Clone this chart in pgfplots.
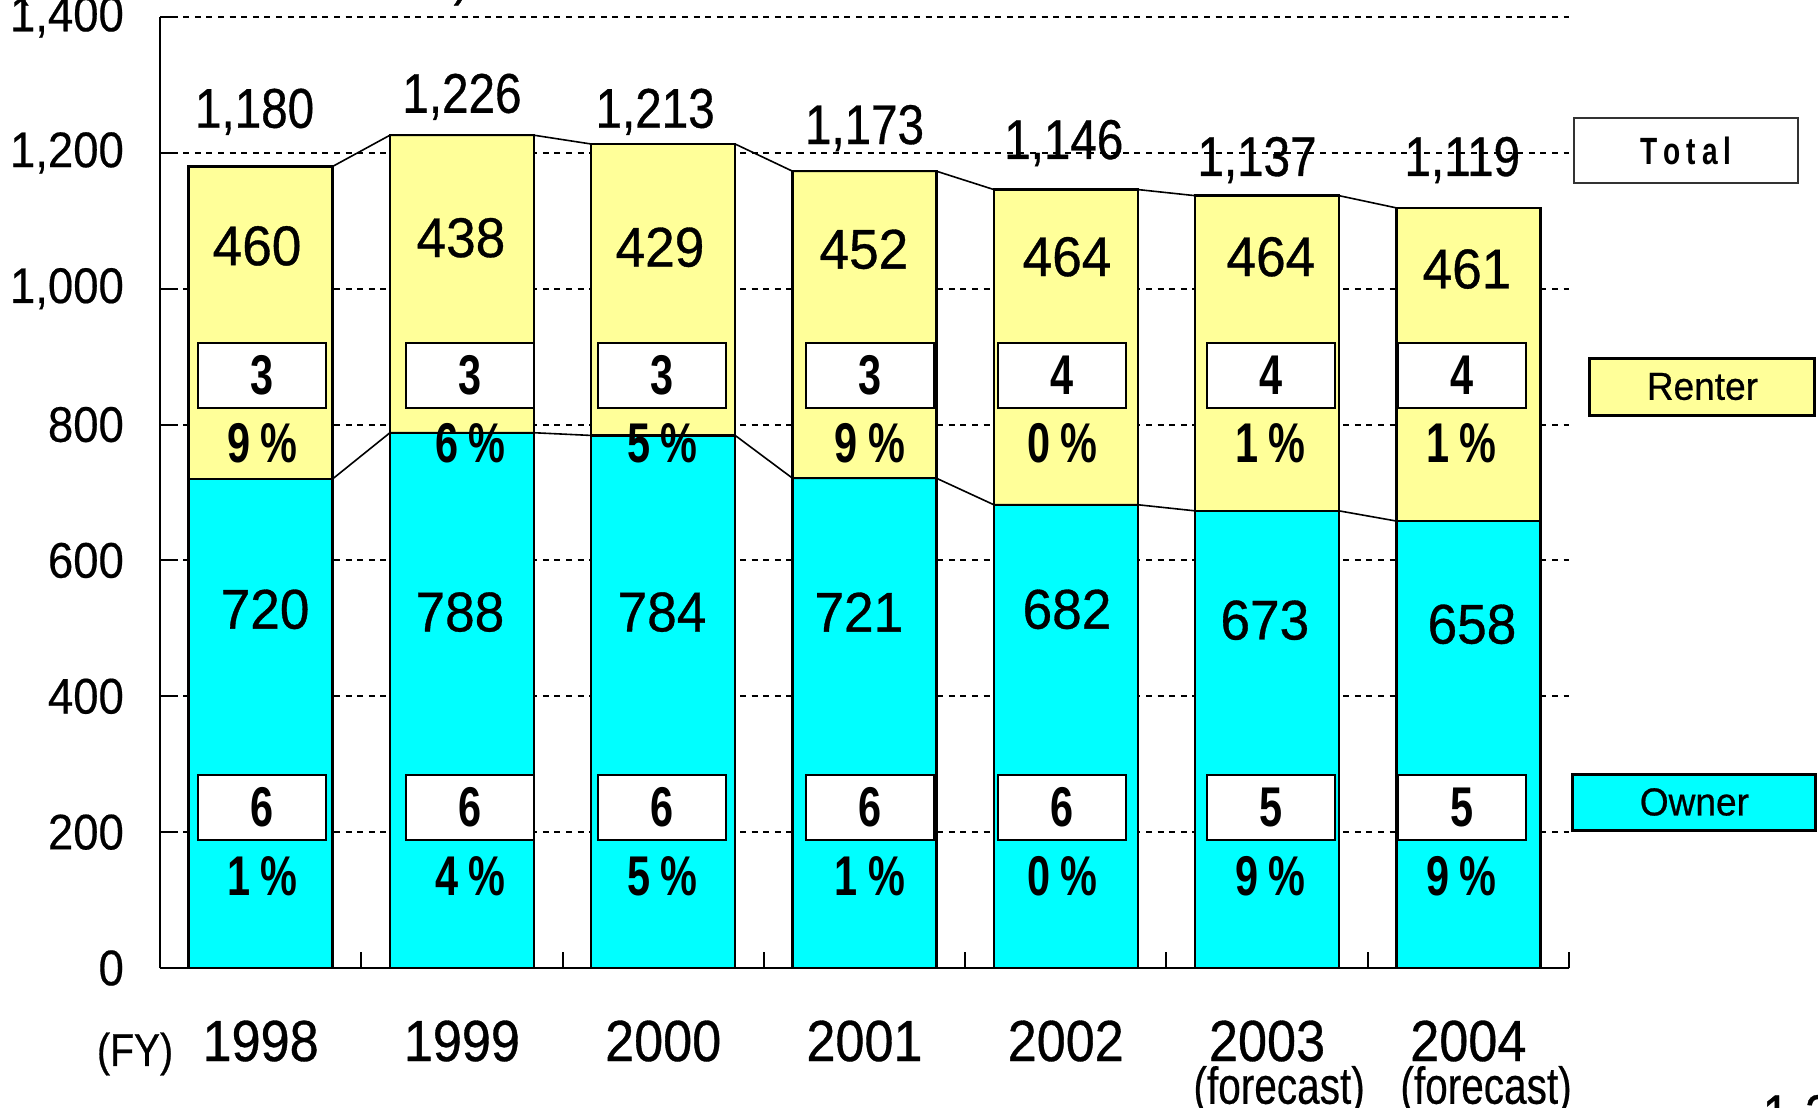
\documentclass[border=0pt]{standalone}
\usepackage{pgfplots}
\pgfplotsset{compat=1.18}
\usepackage{pgfplotstable}
\usepackage{fontspec}
\setmainfont{Liberation Sans}
\newfontfamily\numf{Liberation Sans}[FakeStretch=0.85, FakeBold=0.6]
\newfontfamily\valf{Liberation Sans}[FakeStretch=0.95, FakeBold=0.6]
\newfontfamily\tickf{Liberation Sans}[FakeStretch=0.91, FakeBold=0.4]
\newfontfamily\yrf{Liberation Sans}[FakeStretch=0.9, FakeBold=0.6]
\newfontfamily\condf{Liberation Sans}[FakeStretch=0.78, FakeBold=0.4]
\newfontfamily\bcf{Liberation Sans}[FakeStretch=0.74]
\definecolor{renteryellow}{RGB}{255,255,153}
\definecolor{ownercyan}{RGB}{0,255,255}

\pgfplotstableread{
x owner renter total
0 720 460 1180
1 788 438 1226
2 784 429 1213
3 721 452 1173
4 682 464 1146
5 673 464 1137
6 658 461 1119
}\housing

\tikzset{
  pbox/.style={draw=black, line width=0.4pt, fill=white, minimum width=32pt, minimum height=16.25pt, inner sep=0pt, font=\bcf\bfseries\fontsize{14pt}{16pt}\selectfont},
  pct/.style={inner sep=0pt, font=\bcf\bfseries\fontsize{14pt}{16pt}\selectfont},
  tot/.style={inner sep=0pt, anchor=base, font=\numf\fontsize{14pt}{16pt}\selectfont},
  val/.style={inner sep=0pt, font=\valf\fontsize{14pt}{16pt}\selectfont},
  yr/.style={inner sep=0pt, font=\yrf\fontsize{14.5pt}{16pt}\selectfont},
}

\begin{document}
\begin{tikzpicture}
\useasboundingbox (0,0) rectangle (454.5pt,276.75pt);
\clip (0,0) rectangle (454.5pt,276.75pt);
\begin{axis}[
  at={(40pt,34.75pt)}, anchor=south west,
  scale only axis, width=352.25pt, height=237.75pt,
  xmin=-0.5, xmax=6.5, ymin=0, ymax=1400,
  axis x line*=bottom, axis y line*=left,
  axis line style={black, line width=0.5pt},
  xtick={-0.5,0.5,1.5,2.5,3.5,4.5,5.5,6.5}, xticklabels={},
  ytick={0,200,...,1400},
  tick align=inside, major tick length=4pt,
  tick style={black, line width=0.5pt},
  ymajorgrids, grid style={black, line width=0.5pt, dash pattern=on 1.5pt off 1.4pt},
  /pgf/number format/assume math mode=true,
  /pgf/number format/1000 sep={,},
  yticklabel style={font=\tickf\fontsize{12.5pt}{14pt}\selectfont, xshift=-5.5pt},
  clip=false,
]
% total (renter on top) bars, then owner bars over them
\addplot[ybar, bar width=0.715, bar shift=0pt, fill=renteryellow, draw=black, line width=0.6pt]
  table[x=x, y=total]{\housing};
\addplot[ybar, bar width=0.715, bar shift=0pt, fill=ownercyan, draw=black, line width=0.6pt]
  table[x=x, y=owner]{\housing};
% series lines
\addplot[black, line width=0.4pt, sharp plot, mark=none] coordinates {
 (0.3575,720) (0.6425,788) (1.3575,788) (1.6425,784) (2.3575,784) (2.6425,721)
 (3.3575,721) (3.6425,682) (4.3575,682) (4.6425,673) (5.3575,673) (5.6425,658)};
\addplot[black, line width=0.4pt, sharp plot, mark=none] coordinates {
 (0.3575,1180) (0.6425,1226) (1.3575,1226) (1.6425,1213) (2.3575,1213) (2.6425,1173)
 (3.3575,1173) (3.6425,1146) (4.3575,1146) (4.6425,1137) (5.3575,1137) (5.6425,1119)};

% totals
\node[tot] at (axis cs:-0.03,1237) {1,180};
\node[tot] at (axis cs:1.0,1259) {1,226};
\node[tot] at (axis cs:1.96,1237) {1,213};
\node[tot] at (axis cs:3.0,1213) {1,173};
\node[tot] at (axis cs:3.99,1191) {1,146};
\node[tot] at (axis cs:4.95,1166) {1,137};
\node[tot] at (axis cs:5.97,1166) {1,119};

% renter values
\node[val] at (axis cs:-0.018,1063) {460};
\node[val] at (axis cs:0.995,1075) {438};
\node[val] at (axis cs:1.984,1061) {429};
\node[val] at (axis cs:2.997,1058) {452};
\node[val] at (axis cs:4.006,1047) {464};
\node[val] at (axis cs:5.019,1047) {464};
\node[val] at (axis cs:5.993,1029) {461};

% owner values
\node[val] at (axis cs:0.022,528) {720};
\node[val] at (axis cs:0.99,524) {788};
\node[val] at (axis cs:1.994,524) {784};
\node[val] at (axis cs:2.972,524) {721};
\node[val] at (axis cs:4.006,528) {682};
\node[val] at (axis cs:4.989,512) {673};
\node[val] at (axis cs:6.018,506) {658};

% renter share boxes
\node[pbox] at (axis cs:0.007,872) {3};
\node[pbox] at (axis cs:1.040,872) {3};
\node[pbox] at (axis cs:1.994,872) {3};
\node[pbox] at (axis cs:3.027,872) {3};
\node[pbox] at (axis cs:3.981,872) {4};
\node[pbox] at (axis cs:5.019,872) {4};
\node[pbox] at (axis cs:5.968,872) {4};
\node[pct] at (axis cs:0.007,773) {9\kern2.5pt\%};
\node[pct] at (axis cs:1.040,773) {6\kern2.5pt\%};
\node[pct] at (axis cs:1.994,773) {5\kern2.5pt\%};
\node[pct] at (axis cs:3.027,773) {9\kern2.5pt\%};
\node[pct] at (axis cs:3.981,773) {0\kern2.5pt\%};
\node[pct] at (axis cs:5.019,773) {1\kern2.5pt\%};
\node[pct] at (axis cs:5.968,773) {1\kern2.5pt\%};

% owner share boxes
\node[pbox] at (axis cs:0.007,236) {6};
\node[pbox] at (axis cs:1.040,236) {6};
\node[pbox] at (axis cs:1.994,236) {6};
\node[pbox] at (axis cs:3.027,236) {6};
\node[pbox] at (axis cs:3.981,236) {6};
\node[pbox] at (axis cs:5.019,236) {5};
\node[pbox] at (axis cs:5.968,236) {5};
\node[pct] at (axis cs:0.007,135) {1\kern2.5pt\%};
\node[pct] at (axis cs:1.040,135) {4\kern2.5pt\%};
\node[pct] at (axis cs:1.994,135) {5\kern2.5pt\%};
\node[pct] at (axis cs:3.027,135) {1\kern2.5pt\%};
\node[pct] at (axis cs:3.981,135) {0\kern2.5pt\%};
\node[pct] at (axis cs:5.019,135) {9\kern2.5pt\%};
\node[pct] at (axis cs:5.968,135) {9\kern2.5pt\%};

% year labels
\node[yr] at (axis cs:0,-107.5) {1998};
\node[yr] at (axis cs:1,-107.5) {1999};
\node[yr] at (axis cs:2,-107.5) {2000};
\node[yr] at (axis cs:3,-107.5) {2001};
\node[yr] at (axis cs:4,-107.5) {2002};
\node[yr] at (axis cs:5,-107.5) {2003};
\node[yr] at (axis cs:6,-107.5) {2004};
\node[inner sep=0pt, font=\condf\fontsize{13pt}{15pt}\selectfont] at (axis cs:5.06,-180) {(forecast)};
\node[inner sep=0pt, font=\condf\fontsize{13pt}{15pt}\selectfont] at (axis cs:6.088,-180) {(forecast)};
\node[inner sep=0pt, font=\numf\fontsize{11.5pt}{14pt}\selectfont] at (axis cs:-0.624,-126.6) {(FY)};

% legend-like boxes
\node[draw=black!80, line width=0.4pt, fill=white, minimum width=56pt, minimum height=16.25pt, inner sep=0pt,
  font=\bcf\bfseries\fontsize{9.5pt}{11pt}\selectfont] at (axis cs:7.081,1203.5) {T\kern1.5pt o\kern1.5pt t\kern1.5pt a\kern1.5pt l};
\node[draw=black, line width=0.75pt, fill=renteryellow, minimum width=56.25pt, minimum height=14.25pt, inner sep=0pt,
  font=\valf\fontsize{9.75pt}{11pt}\selectfont] at (axis cs:7.163,856) {Renter};
\node[draw=black, line width=0.75pt, fill=ownercyan, minimum width=60.75pt, minimum height=14pt, inner sep=0pt,
  font=\valf\fontsize{9.75pt}{11pt}\selectfont] at (axis cs:7.123,244.4) {Owner};

% cut-off texts at the page edges
\node[inner sep=0pt, anchor=base west, font=\numf\fontsize{14pt}{16pt}\selectfont] at (axis cs:-1.235,1434) {(Unit: thousand units)};
\node[inner sep=0pt, anchor=north west, font=\numf\fontsize{14pt}{16pt}\selectfont] at (axis cs:7.459,-185.6) {1-3};
\end{axis}
\end{tikzpicture}
\end{document}
